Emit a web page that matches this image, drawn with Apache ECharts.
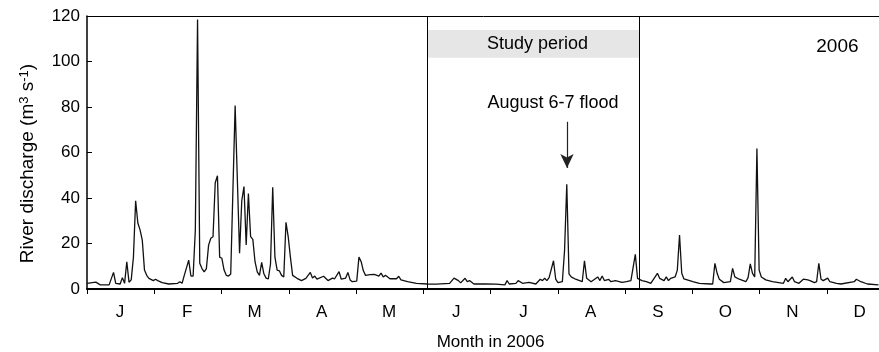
<!DOCTYPE html>
<html>
<head>
<meta charset="utf-8">
<script src="https://cdn.jsdelivr.net/npm/echarts@6/dist/echarts.min.js"></script>
<style>html,body{margin:0;padding:0;background:#fff}#c{width:879px;height:352px}</style>
</head>
<body>
<div id="c"></div>
<script>
const months = ['J','F','M','A','M','J','J','A','S','O','N','D'];
const yTicks = [0, 20, 40, 60, 80, 100, 120];
// day of year (0 = Jan 1) and river discharge (m3 s-1)
const days = [0,4,6,10,12,13,15,16,17,18,19,20,21,22,23,24,25,26,27,28,30,31,32,34,37,41,42,43,44,46,47,48,49,50,51,52,53,54,55,56,57,58,59,60,61,62,63,64,65,67,69,70,71,72,73,74,75,76,77,78,79,80,81,82,83,84,85,86,87,88,89,90,91,92,93,95,97,99,101,102,103,104,107,109,111,112,114,115,117,118,119,120,122,123,124,125,126,128,130,132,133,134,135,137,140,141,142,145,149,154,158,164,166,168,169,171,172,173,175,180,185,189,190,191,194,195,197,200,203,205,206,207,208,209,211,212,213,214,215,216,217,218,219,221,224,225,226,228,231,232,233,234,236,237,239,242,244,246,248,249,251,253,255,258,259,261,262,263,264,266,267,268,269,270,274,277,282,283,284,285,286,288,291,292,293,295,298,299,300,301,302,303,304,305,307,310,315,316,317,319,320,322,324,326,327,329,330,331,332,333,335,336,339,341,347,348,350,353,358];
const discharge = [2.5,3.0,1.8,1.8,7.3,2.5,2.2,5.0,2.5,12,3,4,14,38.8,29,26,21.5,8.3,6,4.7,3.7,4.3,3.7,2.8,2.2,2.5,3.2,2.5,6,12.7,5.7,5.7,26,118.5,11.3,9,7.5,9,19.3,22.3,23,46.7,49.8,14,13.5,8.3,6,5.7,6.6,80.6,15.7,38.8,45,19.3,42,23,21.8,12,7.5,6,11.7,6.7,4.8,4.4,11,44.7,14,8.3,8,6,5.3,29.3,23,14,6,4.7,3.7,4.7,7.3,4.8,5.7,4.3,5.6,3.7,4.8,4.5,7.6,4.3,4.8,7.3,4,3.2,3.5,14,12,8,6,6.3,6.4,5.7,7.0,5.3,6,4.5,4.5,5.6,4,3.2,2.5,2.2,2.1,2.5,4.8,3.7,2.7,4.7,3.2,3.7,2.2,2.2,2.1,1.8,3.7,2.2,2.5,3.7,2.5,2.9,2.2,4.3,3.7,4.7,3.7,5.0,12.4,4.3,2.8,3.0,3.2,17,46,6.6,5.3,4.3,3.2,12.4,4.7,3.2,5.3,3.7,5.7,3.7,4.2,3.2,3.7,2.9,3.2,3.7,15.2,4.7,3.7,3.2,2.5,6.9,4.7,3.7,5.3,3.7,4.7,5.3,8.3,23.7,6.9,4.4,3.2,2.5,2.2,2.2,11.3,6.9,4.3,2.8,3.2,9.1,5.3,4.3,3.2,5.0,11,6.9,5.3,61.8,8.3,5.3,4,3.2,2.5,4.7,3.2,5.3,3.2,2.5,4.3,4,3.7,2.8,3.2,11.3,4.3,3.7,4.8,3.2,2.5,2.2,3.2,4.3,3.2,2.2,1.8];
const studyStart = 154.1, studyEnd = 249.8;
const floodDay = 217.1;

const monthLen = 365 / 12;
const font = 'Liberation Sans, Arial, sans-serif';
const chart = echarts.init(document.getElementById('c'), null, {renderer: 'canvas'});
const seriesData = days.map((d, i) => [d, discharge[i]]);

chart.setOption({
  animation: false,
  backgroundColor: '#fff',
  textStyle: {fontFamily: font, color: '#000'},
  grid: {left: 87, top: 16, width: 807, bottom: 63, containLabel: false, outerBoundsMode: 'none'},
  xAxis: [{
    type: 'value', min: 0, max: 365, interval: monthLen,
    name: 'Month in 2006', nameLocation: 'middle', nameGap: 45,
    nameTextStyle: {fontSize: 17, color: '#000', fontFamily: font},
    axisLine: {show: true, lineStyle: {color: '#000', width: 2}},
    axisTick: {show: true, inside: false, length: 5, lineStyle: {color: '#000', width: 1}},
    splitLine: {show: false},
    axisLabel: {
      show: true, margin: 15, fontSize: 17, color: '#000', fontFamily: font,
      showMaxLabel: false,
      formatter: function (v) {
        const i = Math.round(v / monthLen);
        return i < 12 ? '{m|' + months[i] + '}' : '';
      },
      rich: {m: {fontSize: 17, color: '#000', fontFamily: font, padding: [0, 0, 0, 66]}}
    }
  }, {
    type: 'value', position: 'top', min: 0, max: 365,
    axisLine: {show: true, onZero: false, lineStyle: {color: '#000', width: 1}},
    axisTick: {show: false}, axisLabel: {show: false}, splitLine: {show: false}
  }],
  yAxis: {
    type: 'value', min: 0, max: 120, interval: 20,
    name: 'River discharge (m{s|3} s{s|-1})', nameLocation: 'middle', nameGap: 50,
    nameTextStyle: {fontSize: 19, color: '#000', fontFamily: font, padding: [0, 22, 0, 0],
      rich: {s: {fontSize: 13, color: '#000', fontFamily: font, verticalAlign: 'top', lineHeight: 19}}},
    axisLine: {show: true, lineStyle: {color: '#000', width: 1.5}},
    axisTick: {show: true, inside: true, length: 5, lineStyle: {color: '#000', width: 1}},
    splitLine: {show: false},
    axisLabel: {fontSize: 17, color: '#000', margin: 7, fontFamily: font,
      formatter: v => yTicks.includes(v) ? String(v) : ''}
  },
  series: [{
    type: 'line', data: seriesData, showSymbol: false, symbol: 'none',
    lineStyle: {color: '#111', width: 1.3}, silent: true,
    markArea: {
      silent: true,
      itemStyle: {color: '#e6e6e6'},
      label: {show: true, position: 'inside', offset: [4, 0], fontSize: 18, color: '#000', fontFamily: font},
      data: [[{name: 'Study period', xAxis: studyStart, yAxis: 101.7}, {xAxis: studyEnd, yAxis: 113.8}]]
    },
    markLine: {
      silent: true, animation: false,
      label: {show: false},
      symbol: ['none', 'none'],
      lineStyle: {color: '#000', width: 1, type: 'solid'},
      data: [
        {xAxis: studyStart},
        {xAxis: studyEnd},
        [{coord: [floodDay, 73.5], symbol: 'none'},
         {coord: [floodDay, 53.2], symbol: 'arrow', symbolSize: [10, 14], lineStyle: {color: '#222', width: 1.2}}]
      ]
    },
    markPoint: {
      silent: true, symbol: 'circle', symbolSize: 0,
      label: {show: true, position: 'inside', color: '#000', fontFamily: font},
      data: [
        {coord: [210.8, 81.9], value: 'August 6-7 flood', label: {fontSize: 18, formatter: 'August 6-7 flood'}},
        {coord: [339.4, 106.6], value: '2006', label: {fontSize: 19, formatter: '2006'}}
      ]
    }
  }]
});
</script>
</body>
</html>
